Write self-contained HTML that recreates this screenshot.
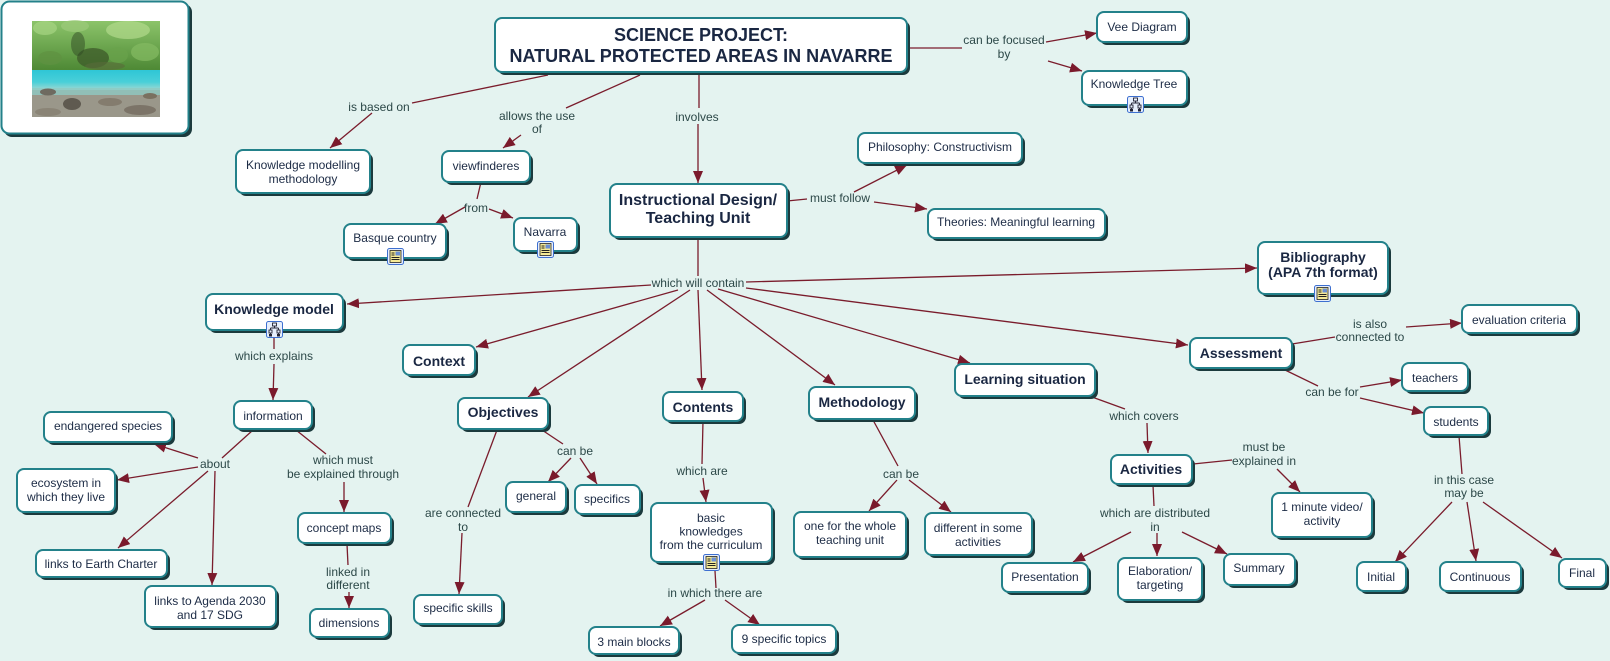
<!DOCTYPE html>
<html><head><meta charset="utf-8">
<style>
html,body{margin:0;padding:0;background:#e4f3f0;}
svg{display:block;}
.s{fill:#1b3a3d;}
.n{fill:#fff;stroke:#23818a;stroke-width:2;}
.t{font-family:"Liberation Sans",Arial,sans-serif;font-size:12px;fill:#1c2b45;text-anchor:middle;}
.b{font-family:"Liberation Sans",Arial,sans-serif;font-size:14px;font-weight:bold;fill:#1a2742;text-anchor:middle;}
.l{font-family:"Liberation Sans",Arial,sans-serif;font-size:12px;fill:#2c4848;text-anchor:middle;}
.c line{stroke:#7a1c2c;stroke-width:1.3;}
</style></head><body>
<svg width="1610" height="661" viewBox="0 0 1610 661" xmlns="http://www.w3.org/2000/svg">
<defs>
<marker id="a" markerWidth="12" markerHeight="10" refX="12" refY="5" orient="auto" markerUnits="userSpaceOnUse"><path d="M0,0 L12,5 L0,10 Z" fill="#7a1a2c"/></marker>
<linearGradient id="fg" x1="0" y1="0" x2="0" y2="1"><stop offset="0" stop-color="#8cc46a"/><stop offset="0.5" stop-color="#4f8a36"/><stop offset="1" stop-color="#3f6a2e"/></linearGradient>
<linearGradient id="wg" x1="0" y1="0" x2="0" y2="1"><stop offset="0" stop-color="#2fc6d6"/><stop offset="0.6" stop-color="#49cfd8"/><stop offset="1" stop-color="#9fd8d2"/></linearGradient>
<g id="doc"><rect x="0.5" y="0.5" width="16" height="16" rx="2" fill="#e6eefc" stroke="#3d6fd0"/><rect x="3" y="2.5" width="11" height="12" fill="#f5ea96" stroke="#222" stroke-width="0.8"/><rect x="8.5" y="3.5" width="4.5" height="4" fill="#6b8fd2"/><path d="M4.5 5h3M4.5 7h3M4.5 9.5h8M4.5 11.5h8" stroke="#222" stroke-width="0.9"/></g>
<g id="tree"><rect x="0.5" y="0.5" width="16" height="16" rx="2" fill="#e6eefc" stroke="#3d6fd0"/><rect x="6.5" y="2" width="4" height="3" fill="none" stroke="#223" stroke-width="0.9"/><path d="M8.5 5v2M4.5 7h8M4.5 7v2M12.5 7v2M4.5 12v1.5M12.5 12v1.5" stroke="#223" stroke-width="0.9"/><rect x="3" y="9" width="3" height="3" fill="none" stroke="#223" stroke-width="0.9"/><rect x="11" y="9" width="3" height="3" fill="none" stroke="#223" stroke-width="0.9"/><rect x="3" y="13" width="3" height="2.5" fill="#223"/><rect x="11" y="13" width="3" height="2.5" fill="#223"/></g>
</defs>
<rect width="1610" height="661" fill="#e4f3f0"/>

<!-- connectors -->
<g class="c">
<line x1="548" y1="75" x2="412" y2="103"/>
<line x1="372" y1="113" x2="330" y2="148" marker-end="url(#a)"/>
<line x1="640" y1="75" x2="566" y2="108"/>
<line x1="521" y1="135" x2="503" y2="148" marker-end="url(#a)"/>
<line x1="699" y1="75" x2="699" y2="108"/>
<line x1="698" y1="124" x2="698" y2="183" marker-end="url(#a)"/>
<line x1="481" y1="182" x2="477" y2="199"/>
<line x1="465" y1="207" x2="435" y2="224" marker-end="url(#a)"/>
<line x1="489" y1="209" x2="513" y2="218" marker-end="url(#a)"/>
<line x1="910" y1="48" x2="962" y2="48"/>
<line x1="1046" y1="42" x2="1097" y2="33" marker-end="url(#a)"/>
<line x1="1048" y1="61" x2="1082" y2="71" marker-end="url(#a)"/>
<line x1="787" y1="201" x2="807" y2="199"/>
<line x1="854" y1="192" x2="907" y2="165" marker-end="url(#a)"/>
<line x1="874" y1="202" x2="927" y2="209" marker-end="url(#a)"/>

<line x1="698" y1="237" x2="698" y2="276"/>
<line x1="651" y1="285" x2="347" y2="304" marker-end="url(#a)"/>
<line x1="678" y1="290" x2="476" y2="347" marker-end="url(#a)"/>
<line x1="690" y1="290" x2="528" y2="397" marker-end="url(#a)"/>
<line x1="698" y1="290" x2="702" y2="390" marker-end="url(#a)"/>
<line x1="707" y1="290" x2="835" y2="385" marker-end="url(#a)"/>
<line x1="718" y1="289" x2="970" y2="363" marker-end="url(#a)"/>
<line x1="746" y1="288" x2="1188" y2="345" marker-end="url(#a)"/>
<line x1="746" y1="282" x2="1257" y2="268" marker-end="url(#a)"/>

<line x1="274" y1="337" x2="274" y2="349"/>
<line x1="274" y1="364" x2="273" y2="400" marker-end="url(#a)"/>
<line x1="253" y1="430" x2="222" y2="458"/>
<line x1="198" y1="458" x2="154" y2="444" marker-end="url(#a)"/>
<line x1="198" y1="467" x2="117" y2="480" marker-end="url(#a)"/>
<line x1="208" y1="471" x2="118" y2="548" marker-end="url(#a)"/>
<line x1="215" y1="471" x2="212" y2="585" marker-end="url(#a)"/>
<line x1="296" y1="430" x2="326" y2="454"/>
<line x1="344" y1="482" x2="344" y2="512" marker-end="url(#a)"/>
<line x1="347" y1="544" x2="348" y2="565"/>
<line x1="349" y1="592" x2="349" y2="608" marker-end="url(#a)"/>

<line x1="542" y1="430" x2="563" y2="444"/>
<line x1="571" y1="458" x2="548" y2="482" marker-end="url(#a)"/>
<line x1="580" y1="458" x2="597" y2="484" marker-end="url(#a)"/>
<line x1="497" y1="430" x2="468" y2="507"/>
<line x1="462" y1="533" x2="459" y2="594" marker-end="url(#a)"/>
<line x1="703" y1="421" x2="702" y2="464"/>
<line x1="703" y1="478" x2="706" y2="502" marker-end="url(#a)"/>
<line x1="715" y1="571" x2="716" y2="588"/>
<line x1="705" y1="600" x2="660" y2="626" marker-end="url(#a)"/>
<line x1="725" y1="600" x2="760" y2="625" marker-end="url(#a)"/>

<line x1="873" y1="420" x2="898" y2="466"/>
<line x1="897" y1="480" x2="869" y2="511" marker-end="url(#a)"/>
<line x1="909" y1="480" x2="951" y2="512" marker-end="url(#a)"/>

<line x1="1092" y1="397" x2="1125" y2="409"/>
<line x1="1147" y1="423" x2="1148" y2="453" marker-end="url(#a)"/>
<line x1="1153" y1="485" x2="1154" y2="506"/>
<line x1="1131" y1="532" x2="1073" y2="562" marker-end="url(#a)"/>
<line x1="1157" y1="533" x2="1157" y2="556" marker-end="url(#a)"/>
<line x1="1182" y1="532" x2="1227" y2="554" marker-end="url(#a)"/>
<line x1="1193" y1="464" x2="1232" y2="460"/>
<line x1="1277" y1="469" x2="1300" y2="492" marker-end="url(#a)"/>

<line x1="1292" y1="344" x2="1335" y2="337"/>
<line x1="1406" y1="327" x2="1462" y2="323" marker-end="url(#a)"/>
<line x1="1283" y1="369" x2="1318" y2="386"/>
<line x1="1360" y1="387" x2="1402" y2="380" marker-end="url(#a)"/>
<line x1="1360" y1="398" x2="1424" y2="413" marker-end="url(#a)"/>
<line x1="1459" y1="436" x2="1462" y2="474"/>
<line x1="1452" y1="502" x2="1395" y2="562" marker-end="url(#a)"/>
<line x1="1467" y1="502" x2="1476" y2="561" marker-end="url(#a)"/>
<line x1="1483" y1="502" x2="1562" y2="558" marker-end="url(#a)"/>
</g>

<!-- linking labels -->
<text class="l" x="379" y="111">is based on</text>
<text class="l" x="537" y="120">allows the use</text>
<text class="l" x="537" y="133">of</text>
<text class="l" x="697" y="121">involves</text>
<text class="l" x="1004" y="44">can be focused</text>
<text class="l" x="1004" y="58">by</text>
<text class="l" x="476" y="212">from</text>
<text class="l" x="840" y="202">must follow</text>
<text class="l" x="698" y="287">which will contain</text>
<text class="l" x="274" y="360">which explains</text>
<text class="l" x="215" y="468">about</text>
<text class="l" x="343" y="464">which must</text>
<text class="l" x="343" y="478">be explained through</text>
<text class="l" x="348" y="576">linked in</text>
<text class="l" x="348" y="589">different</text>
<text class="l" x="575" y="455">can be</text>
<text class="l" x="463" y="517">are connected</text>
<text class="l" x="463" y="531">to</text>
<text class="l" x="702" y="475">which are</text>
<text class="l" x="715" y="597">in which there are</text>
<text class="l" x="901" y="478">can be</text>
<text class="l" x="1144" y="420">which covers</text>
<text class="l" x="1155" y="517">which are distributed</text>
<text class="l" x="1155" y="531">in</text>
<text class="l" x="1264" y="451">must be</text>
<text class="l" x="1264" y="465">explained in</text>
<text class="l" x="1370" y="328">is also</text>
<text class="l" x="1370" y="341">connected to</text>
<text class="l" x="1332" y="396">can be for</text>
<text class="l" x="1464" y="484">in this case</text>
<text class="l" x="1464" y="497">may be</text>

<!-- image node -->
<rect class="s" x="4" y="4" width="188" height="133" rx="8"/>
<rect class="n" x="1.5" y="1.5" width="187" height="132" rx="8"/>
<g>
<rect x="32" y="21" width="128" height="96" fill="url(#fg)"/>
<ellipse cx="45" cy="28" rx="12" ry="7" fill="#a6d483" opacity="0.7"/>
<ellipse cx="75" cy="26" rx="14" ry="6" fill="#9ccb7a" opacity="0.7"/>
<ellipse cx="128" cy="30" rx="22" ry="9" fill="#b2da8c" opacity="0.7"/>
<ellipse cx="145" cy="52" rx="14" ry="9" fill="#84bb62" opacity="0.7"/>
<ellipse cx="118" cy="55" rx="10" ry="8" fill="#6aa24c" opacity="0.7"/>
<ellipse cx="93" cy="58" rx="16" ry="10" fill="#3e5a2a" opacity="0.75"/>
<ellipse cx="78" cy="44" rx="7" ry="12" fill="#2f4a24" opacity="0.5"/>
<ellipse cx="50" cy="58" rx="12" ry="7" fill="#5f9242" opacity="0.7"/>
<ellipse cx="105" cy="66" rx="20" ry="4" fill="#5a6a3a" opacity="0.6"/>
<rect x="32" y="70" width="128" height="20" fill="url(#wg)"/>
<rect x="32" y="90" width="128" height="27" fill="#9a978a"/>
<rect x="32" y="88" width="128" height="7" fill="#8fc9c2" opacity="0.8"/>
<ellipse cx="48" cy="92" rx="8" ry="3.5" fill="#6e6a60"/>
<ellipse cx="72" cy="104" rx="9" ry="6" fill="#5f5a50"/>
<ellipse cx="110" cy="102" rx="12" ry="4" fill="#847c6e"/>
<ellipse cx="140" cy="110" rx="16" ry="5" fill="#7c7468"/>
<ellipse cx="48" cy="112" rx="13" ry="4" fill="#8a8476"/>
<ellipse cx="150" cy="96" rx="7" ry="3" fill="#7a7060"/>
</g>

<!-- nodes -->
<rect class="s" x="498" y="21" width="412" height="54" rx="7"/><rect class="n" x="495" y="18" width="412" height="54" rx="7"/>
<text class="b" style="font-size:18px" x="701" y="41">SCIENCE PROJECT:</text>
<text class="b" style="font-size:18px" x="701" y="62">NATURAL PROTECTED AREAS IN NAVARRE</text>

<rect class="s" x="1100" y="15" width="90" height="30" rx="7"/><rect class="n" x="1097" y="12" width="90" height="30" rx="7"/>
<text class="t" x="1142" y="31">Vee Diagram</text>

<rect class="s" x="1085" y="74" width="105" height="34" rx="7"/><rect class="n" x="1082" y="71" width="105" height="34" rx="7"/>
<text class="t" x="1134" y="88">Knowledge Tree</text>
<use href="#tree" x="1127" y="96"/>

<rect class="s" x="239" y="153" width="134" height="43" rx="7"/><rect class="n" x="236" y="150" width="134" height="43" rx="7"/>
<text class="t" x="303" y="169">Knowledge modelling</text>
<text class="t" x="303" y="183">methodology</text>

<rect class="s" x="445" y="154" width="88" height="31" rx="7"/><rect class="n" x="442" y="151" width="88" height="31" rx="7"/>
<text class="t" x="486" y="170">viewfinderes</text>

<rect class="s" x="347" y="227" width="102" height="34" rx="7"/><rect class="n" x="344" y="224" width="102" height="34" rx="7"/>
<text class="t" x="395" y="242">Basque country</text>
<use href="#doc" x="387" y="248"/>

<rect class="s" x="517" y="221" width="63" height="33" rx="7"/><rect class="n" x="514" y="218" width="63" height="33" rx="7"/>
<text class="t" x="545" y="236">Navarra</text>
<use href="#doc" x="537" y="241"/>

<rect class="s" x="613" y="187" width="177" height="53" rx="7"/><rect class="n" x="610" y="184" width="177" height="53" rx="7"/>
<text class="b" style="font-size:16px" x="698" y="205">Instructional Design/</text>
<text class="b" style="font-size:16px" x="698" y="223">Teaching Unit</text>

<rect class="s" x="861" y="136" width="164" height="30" rx="7"/><rect class="n" x="858" y="133" width="164" height="30" rx="7"/>
<text class="t" x="940" y="151">Philosophy: Constructivism</text>

<rect class="s" x="931" y="212" width="177" height="29" rx="7"/><rect class="n" x="928" y="209" width="177" height="29" rx="7"/>
<text class="t" x="1016" y="226">Theories: Meaningful learning</text>

<rect class="s" x="1261" y="245" width="130" height="52" rx="7"/><rect class="n" x="1258" y="242" width="130" height="52" rx="7"/>
<text class="b" x="1323" y="262">Bibliography</text>
<text class="b" x="1323" y="277">(APA 7th format)</text>
<use href="#doc" x="1314" y="285"/>

<rect class="s" x="209" y="297" width="137" height="36" rx="7"/><rect class="n" x="206" y="294" width="137" height="36" rx="7"/>
<text class="b" x="274" y="314">Knowledge model</text>
<use href="#tree" x="266" y="321"/>

<rect class="s" x="406" y="348" width="72" height="30" rx="7"/><rect class="n" x="403" y="345" width="72" height="30" rx="7"/>
<text class="b" x="439" y="366">Context</text>

<rect class="s" x="461" y="401" width="90" height="31" rx="7"/><rect class="n" x="458" y="398" width="90" height="31" rx="7"/>
<text class="b" x="503" y="417">Objectives</text>

<rect class="s" x="666" y="395" width="80" height="29" rx="7"/><rect class="n" x="663" y="392" width="80" height="29" rx="7"/>
<text class="b" x="703" y="412">Contents</text>

<rect class="s" x="812" y="390" width="106" height="32" rx="7"/><rect class="n" x="809" y="387" width="106" height="32" rx="7"/>
<text class="b" x="862" y="407">Methodology</text>

<rect class="s" x="958" y="367" width="140" height="32" rx="7"/><rect class="n" x="955" y="364" width="140" height="32" rx="7"/>
<text class="b" x="1025" y="384">Learning situation</text>

<rect class="s" x="1193" y="341" width="102" height="30" rx="7"/><rect class="n" x="1190" y="338" width="102" height="30" rx="7"/>
<text class="b" x="1241" y="358">Assessment</text>

<rect class="s" x="1465" y="308" width="115" height="28" rx="7"/><rect class="n" x="1462" y="305" width="115" height="28" rx="7"/>
<text class="t" x="1519" y="324">evaluation criteria</text>

<rect class="s" x="1405" y="366" width="66" height="28" rx="7"/><rect class="n" x="1402" y="363" width="66" height="28" rx="7"/>
<text class="t" x="1435" y="382">teachers</text>

<rect class="s" x="1427" y="410" width="64" height="28" rx="7"/><rect class="n" x="1424" y="407" width="64" height="28" rx="7"/>
<text class="t" x="1456" y="426">students</text>

<rect class="s" x="237" y="404" width="78" height="28" rx="7"/><rect class="n" x="234" y="401" width="78" height="28" rx="7"/>
<text class="t" x="273" y="420">information</text>

<rect class="s" x="47" y="415" width="128" height="30" rx="7"/><rect class="n" x="44" y="412" width="128" height="30" rx="7"/>
<text class="t" x="108" y="430">endangered species</text>

<rect class="s" x="20" y="472" width="98" height="43" rx="7"/><rect class="n" x="17" y="469" width="98" height="43" rx="7"/>
<text class="t" x="66" y="487">ecosystem in</text>
<text class="t" x="66" y="501">which they live</text>

<rect class="s" x="39" y="553" width="131" height="27" rx="7"/><rect class="n" x="36" y="550" width="131" height="27" rx="7"/>
<text class="t" x="101" y="568">links to Earth Charter</text>

<rect class="s" x="148" y="589" width="131" height="41" rx="7"/><rect class="n" x="145" y="586" width="131" height="41" rx="7"/>
<text class="t" x="210" y="605">links to Agenda 2030</text>
<text class="t" x="210" y="619">and 17 SDG</text>

<rect class="s" x="301" y="516" width="93" height="30" rx="7"/><rect class="n" x="298" y="513" width="93" height="30" rx="7"/>
<text class="t" x="344" y="532">concept maps</text>

<rect class="s" x="313" y="612" width="79" height="28" rx="7"/><rect class="n" x="310" y="609" width="79" height="28" rx="7"/>
<text class="t" x="349" y="627">dimensions</text>

<rect class="s" x="509" y="485" width="60" height="30" rx="7"/><rect class="n" x="506" y="482" width="60" height="30" rx="7"/>
<text class="t" x="536" y="500">general</text>

<rect class="s" x="578" y="488" width="65" height="29" rx="7"/><rect class="n" x="575" y="485" width="65" height="29" rx="7"/>
<text class="t" x="607" y="503">specifics</text>

<rect class="s" x="417" y="598" width="88" height="29" rx="7"/><rect class="n" x="414" y="595" width="88" height="29" rx="7"/>
<text class="t" x="458" y="612">specific skills</text>

<rect class="s" x="654" y="506" width="121" height="59" rx="7"/><rect class="n" x="651" y="503" width="121" height="59" rx="7"/>
<text class="t" x="711" y="522">basic</text>
<text class="t" x="711" y="535.5">knowledges</text>
<text class="t" x="711" y="549">from the curriculum</text>
<use href="#doc" x="703" y="554"/>

<rect class="s" x="592" y="630" width="90" height="27" rx="7"/><rect class="n" x="589" y="627" width="90" height="27" rx="7"/>
<text class="t" x="634" y="646">3 main blocks</text>

<rect class="s" x="735" y="628" width="104" height="28" rx="7"/><rect class="n" x="732" y="625" width="104" height="28" rx="7"/>
<text class="t" x="784" y="643">9 specific topics</text>

<rect class="s" x="797" y="515" width="112" height="45" rx="7"/><rect class="n" x="794" y="512" width="112" height="45" rx="7"/>
<text class="t" x="850" y="530">one for the whole</text>
<text class="t" x="850" y="544">teaching unit</text>

<rect class="s" x="928" y="516" width="107" height="42" rx="7"/><rect class="n" x="925" y="513" width="107" height="42" rx="7"/>
<text class="t" x="978" y="532">different in some</text>
<text class="t" x="978" y="546">activities</text>

<rect class="s" x="1114" y="458" width="81" height="29" rx="7"/><rect class="n" x="1111" y="455" width="81" height="29" rx="7"/>
<text class="b" x="1151" y="474">Activities</text>

<rect class="s" x="1275" y="496" width="100" height="44" rx="7"/><rect class="n" x="1272" y="493" width="100" height="44" rx="7"/>
<text class="t" x="1322" y="511">1 minute video/</text>
<text class="t" x="1322" y="525">activity</text>

<rect class="s" x="1005" y="566" width="86" height="29" rx="7"/><rect class="n" x="1002" y="563" width="86" height="29" rx="7"/>
<text class="t" x="1045" y="581">Presentation</text>

<rect class="s" x="1121" y="561" width="84" height="42" rx="7"/><rect class="n" x="1118" y="558" width="84" height="42" rx="7"/>
<text class="t" x="1160" y="575">Elaboration/</text>
<text class="t" x="1160" y="589">targeting</text>

<rect class="s" x="1227" y="557" width="71" height="31" rx="7"/><rect class="n" x="1224" y="554" width="71" height="31" rx="7"/>
<text class="t" x="1259" y="572">Summary</text>

<rect class="s" x="1360" y="565" width="49" height="29" rx="7"/><rect class="n" x="1357" y="562" width="49" height="29" rx="7"/>
<text class="t" x="1381" y="581">Initial</text>

<rect class="s" x="1443" y="565" width="81" height="29" rx="7"/><rect class="n" x="1440" y="562" width="81" height="29" rx="7"/>
<text class="t" x="1480" y="581">Continuous</text>

<rect class="s" x="1562" y="562" width="47" height="28" rx="7"/><rect class="n" x="1559" y="559" width="47" height="28" rx="7"/>
<text class="t" x="1582" y="577">Final</text>
</svg>
</body></html>
